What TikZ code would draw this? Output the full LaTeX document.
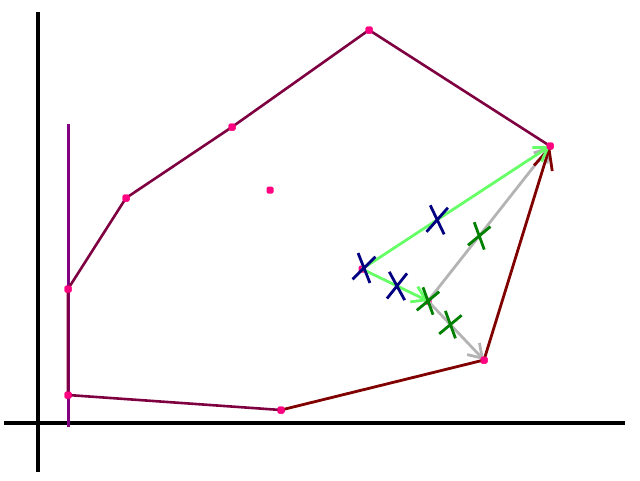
\documentclass[tikz,border=0pt]{standalone}
\usepackage{xcolor}
\usepackage{tikz}
\usetikzlibrary{arrows.meta, calc, shapes.misc}
\definecolor{hullc}{HTML}{7F0040}
\definecolor{lnc}{HTML}{800080}
\definecolor{redc}{HTML}{800000}
\definecolor{ptc}{HTML}{FF0080}
\definecolor{lgc}{HTML}{66FF66}
\definecolor{gyc}{HTML}{B4B4B4}
\definecolor{nvc}{HTML}{000080}
\definecolor{dgc}{HTML}{008000}
\tikzset{
  ax/.style  ={line width=4.5pt, black},
  hl/.style  ={line width=2.6pt, hullc},
  vl/.style  ={line width=3pt, lnc},
  rd/.style  ={line width=2.8pt, redc},
  pt/.style  ={rectangle, rounded corners=1.5pt, fill=ptc, minimum size=7pt, inner sep=0pt},
  ga/.style  ={line width=2.8pt, lgc, -{Straight Barb[length=13pt, width=17pt]}},
  gy/.style  ={line width=2.8pt, gyc, -{Straight Barb[length=13pt, width=17pt]}},
  ra/.style  ={rd, -{Straight Barb[length=20pt, width=19pt]}},
  bx/.style  ={cross out, draw=nvc, line width=2.8pt, minimum width=15pt, minimum height=24pt, inner sep=0pt},
  gx/.style  ={cross out, draw=dgc, line width=2.8pt, minimum width=14pt, minimum height=21pt, inner sep=0pt},
}
\begin{document}
\begin{tikzpicture}[x=1pt, y=-1pt]
  \useasboundingbox (0,0) rectangle (640,480);
  % axes
  \coordinate (yt) at (38,12);   \coordinate (yb) at (38,472);
  \coordinate (xl) at (4,423);   \coordinate (xr) at (625,423);
  \draw[ax] (yt) -- (yb);
  \draw[ax] (xl) -- (xr);
  % points
  \node[pt] (A) at (68,289) {};
  \node[pt] (B) at (126,198) {};
  \node[pt] (C) at (232,127) {};
  \node[pt] (D) at (369,30) {};
  \node[pt] (E) at (550,146) {};
  \node[pt] (F) at (484,360) {};
  \node[pt] (G) at (281,410) {};
  \node[pt] (H) at (68,395) {};
  \node[pt] (O) at (270,190) {};
  \node[pt] (P) at (362,269) {};
  \node[pt] (Q) at (428,301) {};
  \coordinate (vt) at (68,124);  \coordinate (vb) at (68,427);
  \draw[vl] (vt) -- (vb);
  \draw[hl] (G.center) -- (H.center) -- (A.center) -- (B.center) -- (C.center) -- (D.center) -- (E.center);
  \draw[rd] (G.center) -- (F.center);
  \draw[gy] (Q.center) -- (E.center);
  \draw[gy] (Q.center) -- (F.center);
  \draw[ra] (F.center) -- (E.center);
  \draw[ga] (P.center) -- (E.center);
  \draw[ga] (P.center) -- (Q.center);
  \foreach \n in {A,B,C,D,E,F,G,H} \node[pt] at (\n) {};
  % marks
  \node[bx, rotate=-12] (bp)  at (364,268) {};
  \node[bx, rotate=-8]  (bpe) at ($(P)!0.40!(E)$) {};
  \node[bx, rotate=-5]  (bpq) at ($(P)!0.53!(Q)$) {};
  \node[gx, rotate=-15] (gq)  at (Q) {};
  \node[gx, rotate=-15] (gqe) at ($(Q)!0.42!(E)$) {};
  \node[gx, rotate=-15] (gqf) at ($(Q)!0.40!(F)$) {};
\end{tikzpicture}
\end{document}
